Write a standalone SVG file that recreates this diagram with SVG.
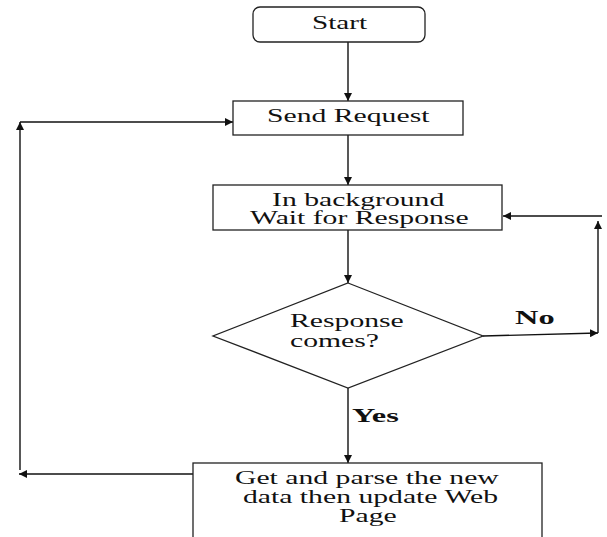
<svg xmlns="http://www.w3.org/2000/svg" width="607" height="537" viewBox="0 0 607 537">
<style>
.box{fill:#fff;stroke:#222;stroke-width:1.3}
.ln{fill:none;stroke:#111;stroke-width:1.4}
.t{font-family:"Liberation Serif","Times New Roman",serif;font-size:18px;fill:#111}
.b{font-weight:bold}
</style>
<defs>
<marker id="ah" viewBox="0 0 10 10" refX="10" refY="5" markerWidth="8" markerHeight="8" markerUnits="userSpaceOnUse" orient="auto">
<path d="M0,0 L10,5 L0,10 Z" fill="#111"/>
</marker>
</defs>
<rect width="607" height="537" fill="#fff"/>
<g id="connectors">
<line class="ln" x1="348" y1="42" x2="348" y2="101" marker-end="url(#ah)"/>
<line class="ln" x1="348" y1="135" x2="348" y2="185" marker-end="url(#ah)"/>
<line class="ln" x1="348" y1="230" x2="348" y2="283" marker-end="url(#ah)"/>
<line class="ln" x1="348" y1="388" x2="348" y2="463" marker-end="url(#ah)"/>
<line class="ln" x1="483" y1="336" x2="598" y2="333" marker-end="url(#ah)"/>
<line class="ln" x1="598" y1="333" x2="598" y2="221" marker-end="url(#ah)"/>
<line class="ln" x1="602" y1="216" x2="503" y2="216" marker-end="url(#ah)"/>
<line class="ln" x1="193" y1="474" x2="19" y2="474" marker-end="url(#ah)"/>
<line class="ln" x1="20" y1="470" x2="20" y2="122" marker-end="url(#ah)"/>
<line class="ln" x1="20" y1="122" x2="233" y2="122" marker-end="url(#ah)"/>
<text class="t b" transform="translate(352,422) scale(1.8,1)">Yes</text>
<text class="t b" transform="translate(515,324) scale(1.8,1)">No</text>
</g>
<g id="start">
<rect class="box" x="253" y="7" width="172" height="35" rx="7"/>
<text class="t" transform="translate(312,29) scale(1.62,1)">Start</text>
</g>
<g id="send">
<rect class="box" x="233" y="101" width="230" height="34"/>
<text class="t" transform="translate(267,122) scale(1.65,1)">Send Request</text>
</g>
<g id="wait">
<rect class="box" x="213" y="185" width="289" height="45"/>
<text class="t" transform="translate(272,206) scale(1.65,1)">In background</text>
<text class="t" transform="translate(250,224) scale(1.65,1)">Wait for Response</text>
</g>
<g id="decision">
<polygon class="box" points="348,283 483,336 348,388 213,336"/>
<text class="t" transform="translate(290,327) scale(1.65,1)">Response</text>
<text class="t" transform="translate(290,347) scale(1.65,1)">comes?</text>
</g>
<g id="update">
<rect class="box" x="193" y="463" width="349" height="90"/>
<text class="t" transform="translate(235,484) scale(1.65,1)">Get and parse the new</text>
<text class="t" transform="translate(243,503) scale(1.65,1)">data then update Web</text>
<text class="t" transform="translate(339,522) scale(1.65,1)">Page</text>
</g>
</svg>
